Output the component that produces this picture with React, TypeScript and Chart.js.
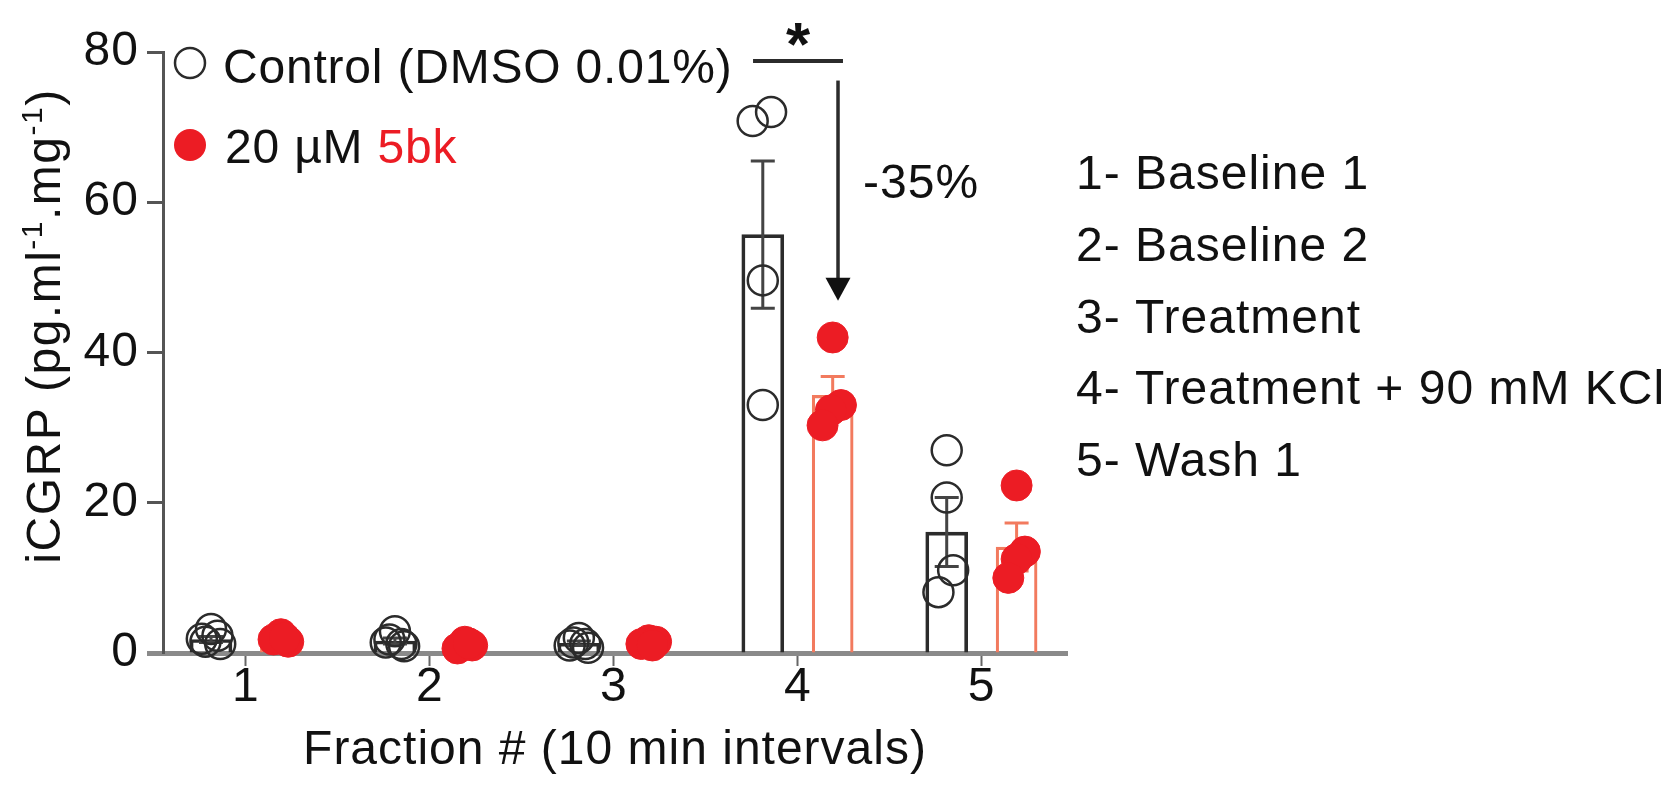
import React, { useEffect, useRef } from 'react';
import { Chart, registerables } from 'chart.js';

Chart.register(...registerables);

// ---------------- data ----------------
const FRACTIONS = [1, 2, 3, 4, 5];
const TICK_LABELS = ['1', '2', '3', '4', '5'];
const Y_TICKS = [0, 20, 40, 60, 80];

const CONTROL_POINTS = [
  [3.2, 1.9, 1.2, 1.5, 2.3],
  [2.9, 1.4, 0.9, 1.8, 1.2],
  [2.0, 1.0, 0.7, 1.4, 1.2],
  [70.8, 72.0, 49.6, 33.0],
  [27.0, 20.7, 11.0, 8.1],
];
const TREAT_POINTS = [
  [2.5, 1.8, 1.5, 2.0],
  [1.5, 0.6, 1.0, 1.3],
  [1.7, 1.2, 1.5, 1.0],
  [42.0, 33.0, 32.3, 30.3],
  [22.3, 13.5, 12.5, 10.0],
];
const CONTROL_MEAN = [1.8, 1.6, 1.3, 55.7, 16.1];
const CONTROL_SEM = [0.4, 0.4, 0.3, 9.8, 4.6];
const TREAT_MEAN = [1.9, 1.1, 1.35, 34.3, 14.1];
const TREAT_SEM = [0.2, 0.2, 0.15, 2.5, 3.2];

const RIGHT_LEGEND = [
  '1- Baseline 1',
  '2- Baseline 2',
  '3- Treatment',
  '4- Treatment + 90 mM KCl',
  '5- Wash 1',
];

// ---------------- layout (x-units) ----------------
const CTRL_OFFSET = -0.19;
const TREAT_OFFSET = 0.19;
const CTRL_JITTER = [
  [0, -0.05, 0.05, -0.03, 0.035],
  [0, -0.05, 0.05, -0.03, 0.035],
  [0, -0.05, 0.05, -0.03, 0.035],
  [-0.055, 0.045, 0, 0],
  [0, 0, 0.035, -0.045],
];
const TREAT_JITTER = [
  [0, -0.04, 0.04, 0.02],
  [0, -0.04, 0.04, 0.02],
  [0, -0.04, 0.04, 0.02],
  [0, 0.045, -0.01, -0.055],
  [0, 0.045, 0, -0.045],
];

const FONT = '"Liberation Sans", Arial, Helvetica, sans-serif';
const RED = '#EC1C24';
const SALMON = '#F27A5E';
const DARK = '#2b2b2b';
const TXT = '#111111';

Chart.defaults.font.family = FONT;

function spacingPlugin() {
  return {
    id: 'spacing',
    beforeDraw(chart: any) {
      (chart.ctx as any).letterSpacing = '1px';
    },
  };
}

function errorBarPlugin() {
  return {
    id: 'errbars',
    afterDatasetDraw(chart: any, args: any) {
      const ds = chart.data.datasets[args.index];
      if (!ds || !ds._err) return;
      const { ctx } = chart;
      const xs = chart.scales.x;
      const ys = chart.scales.y;
      const { mean, sem, offset, color, width } = ds._err;
      ctx.save();
      ctx.strokeStyle = color;
      ctx.lineWidth = width;
      FRACTIONS.forEach((f, i) => {
        const x = xs.getPixelForValue(f + offset);
        const yt = ys.getPixelForValue(mean[i] + sem[i]);
        const yb = ys.getPixelForValue(mean[i] - sem[i]);
        ctx.beginPath();
        ctx.moveTo(x, yt);
        ctx.lineTo(x, yb);
        ctx.moveTo(x - 12, yt);
        ctx.lineTo(x + 12, yt);
        ctx.moveTo(x - 12, yb);
        ctx.lineTo(x + 12, yb);
        ctx.stroke();
      });
      ctx.restore();
    },
  };
}

function annotationPlugin() {
  return {
    id: 'annots',
    afterDraw(chart: any) {
      const { ctx } = chart;
      const xs = chart.scales.x;
      const ys = chart.scales.y;
      ctx.save();
      (ctx as any).letterSpacing = '0.8px';

      // top-left legend
      ctx.lineWidth = 2.5;
      ctx.strokeStyle = DARK;
      ctx.beginPath();
      ctx.arc(182, 55, 15, 0, Math.PI * 2);
      ctx.stroke();
      ctx.fillStyle = RED;
      ctx.beginPath();
      ctx.arc(182, 137, 16, 0, Math.PI * 2);
      ctx.fill();

      ctx.font = `48px ${FONT}`;
      ctx.textAlign = 'left';
      ctx.textBaseline = 'alphabetic';
      ctx.fillStyle = TXT;
      ctx.fillText('Control (DMSO 0.01%)', 215, 75);
      const pre = '20 µM ';
      ctx.fillText(pre, 217, 155);
      const w = ctx.measureText(pre).width;
      ctx.fillStyle = RED;
      ctx.fillText('5bk', 217 + w, 155);

      // right legend
      (ctx as any).letterSpacing = '1px';
      ctx.fillStyle = TXT;
      RIGHT_LEGEND.forEach((t, i) => {
        ctx.fillText(t, 1068, 181 + i * 71.8);
      });

      // significance bar
      ctx.strokeStyle = DARK;
      ctx.lineWidth = 4;
      const sy = ys.getPixelForValue(78.8);
      ctx.beginPath();
      ctx.moveTo(xs.getPixelForValue(4 - 0.243), sy);
      ctx.lineTo(xs.getPixelForValue(4 + 0.246), sy);
      ctx.stroke();

      ctx.font = `bold 62px ${FONT}`;
      ctx.textAlign = 'center';
      ctx.fillStyle = TXT;
      ctx.fillText('*', xs.getPixelForValue(4.005), ys.getPixelForValue(82.6) + 33);

      // arrow
      const ax = xs.getPixelForValue(4.219);
      const ay1 = ys.getPixelForValue(76.2);
      const ay2 = ys.getPixelForValue(46.9);
      ctx.lineWidth = 3.5;
      ctx.beginPath();
      ctx.moveTo(ax, ay1);
      ctx.lineTo(ax, ay2 - 20);
      ctx.stroke();
      ctx.fillStyle = '#111';
      ctx.beginPath();
      ctx.moveTo(ax - 12.5, ay2 - 23);
      ctx.lineTo(ax + 12.5, ay2 - 23);
      ctx.lineTo(ax, ay2);
      ctx.closePath();
      ctx.fill();

      ctx.font = `48px ${FONT}`;
      ctx.textAlign = 'left';
      ctx.fillStyle = TXT;
      ctx.fillText('-35%', xs.getPixelForValue(4.355), ys.getPixelForValue(60.6));

      // y-axis title with superscripts
      (ctx as any).letterSpacing = '1.5px';
      const segs: [string, boolean][] = [
        ['iCGRP (pg.ml', false],
        ['-1', true],
        ['.mg', false],
        ['-1', true],
        [')', false],
      ];
      const normalFont = `48px ${FONT}`;
      const supFont = `30px ${FONT}`;
      let total = 0;
      const widths = segs.map(([t, sup]) => {
        ctx.font = sup ? supFont : normalFont;
        const ww = ctx.measureText(t).width;
        total += ww;
        return ww;
      });
      ctx.translate(52, 318);
      ctx.rotate(-Math.PI / 2);
      let cx = -total / 2;
      segs.forEach(([t, sup], i) => {
        ctx.font = sup ? supFont : normalFont;
        ctx.fillText(t, cx, sup ? -18 : 0);
        cx += widths[i];
      });
      ctx.restore();
    },
  };
}

export default function App() {
  const ref = useRef<HTMLCanvasElement | null>(null);

  useEffect(() => {
    if (!ref.current) return;
    const ctrlScatter = FRACTIONS.flatMap((f, i) =>
      CONTROL_POINTS[i].map((v, j) => ({ x: f + CTRL_OFFSET + CTRL_JITTER[i][j], y: v }))
    );
    const treatScatter = FRACTIONS.flatMap((f, i) =>
      TREAT_POINTS[i].map((v, j) => ({ x: f + TREAT_OFFSET + TREAT_JITTER[i][j], y: v }))
    );
    const chart = new Chart(ref.current, {
      type: 'bar',
      data: {
        datasets: [
          {
            type: 'bar',
            label: 'Control mean',
            data: FRACTIONS.map((f, i) => ({ x: f + CTRL_OFFSET, y: CONTROL_MEAN[i] })),
            backgroundColor: 'rgba(255,255,255,0)',
            borderColor: DARK,
            borderWidth: 3,
            barThickness: 42,
            grouped: false,
            order: 3,
            _err: { mean: CONTROL_MEAN, sem: CONTROL_SEM, offset: CTRL_OFFSET, color: '#444', width: 3 },
          } as any,
          {
            type: 'bar',
            label: '5bk mean',
            data: FRACTIONS.map((f, i) => ({ x: f + TREAT_OFFSET, y: TREAT_MEAN[i] })),
            backgroundColor: 'rgba(255,255,255,0)',
            borderColor: SALMON,
            borderWidth: 2.5,
            barThickness: 41,
            grouped: false,
            order: 3,
            _err: { mean: TREAT_MEAN, sem: TREAT_SEM, offset: TREAT_OFFSET, color: SALMON, width: 3 },
          } as any,
          {
            type: 'scatter',
            label: 'Control (DMSO 0.01%)',
            data: ctrlScatter,
            pointRadius: 15,
            pointBorderWidth: 2.5,
            pointBorderColor: DARK,
            pointBackgroundColor: 'rgba(255,255,255,0)',
            clip: false,
            order: 1,
          } as any,
          {
            type: 'scatter',
            label: '20 µM 5bk',
            data: treatScatter,
            pointRadius: 15.5,
            pointBorderWidth: 1,
            pointBorderColor: RED,
            pointBackgroundColor: RED,
            clip: false,
            order: 1,
          } as any,
        ],
      },
      options: {
        animation: false,
        responsive: false,
        events: [],
        layout: { padding: { top: 44, right: 596, left: 0, bottom: 0 } },
        plugins: { legend: { display: false }, tooltip: { enabled: false } },
        scales: {
          x: {
            type: 'linear',
            offset: false,
            min: 0.549,
            max: 5.464,
            afterBuildTicks: (s: any) => {
              s.ticks = FRACTIONS.map((v) => ({ value: v }));
            },
            afterFit: (s: any) => {
              s.height = 127;
            },
            ticks: {
              font: { size: 48 },
              color: TXT,
              padding: -7,
              callback: (v: any) => TICK_LABELS[FRACTIONS.indexOf(Number(v))],
            },
            grid: {
              offset: false,
              drawOnChartArea: false,
              drawTicks: true,
              tickLength: 13,
              tickColor: '#666',
              tickWidth: 2,
            },
            border: { display: true, color: '#8a8a8a', width: 5 },
            title: {
              display: true,
              text: 'Fraction # (10 min intervals)',
              font: { size: 48 },
              color: TXT,
              padding: { top: 0, bottom: 0 },
            },
          },
          y: {
            type: 'linear',
            min: 0,
            max: 80,
            afterBuildTicks: (s: any) => {
              s.ticks = Y_TICKS.map((v) => ({ value: v }));
            },
            afterFit: (s: any) => {
              s.width = 155;
            },
            ticks: { font: { size: 48 }, color: TXT, padding: 8 },
            grid: {
              drawOnChartArea: false,
              drawTicks: true,
              tickLength: 16,
              tickColor: (c: any) => (c.tick && c.tick.value === 0 ? '#8a8a8a' : '#555'),
              tickWidth: (c: any) => (c.tick && c.tick.value === 0 ? 5 : 3),
            },
            border: { display: true, color: '#555', width: 3 },
          },
        },
      },
      plugins: [spacingPlugin(), errorBarPlugin(), annotationPlugin()],
    } as any);
    return () => chart.destroy();
  }, []);

  return (
    <div style={{ width: 1655, height: 772 }}>
      <canvas ref={ref} width={1655} height={772} style={{ display: 'block' }} />
    </div>
  );
}
